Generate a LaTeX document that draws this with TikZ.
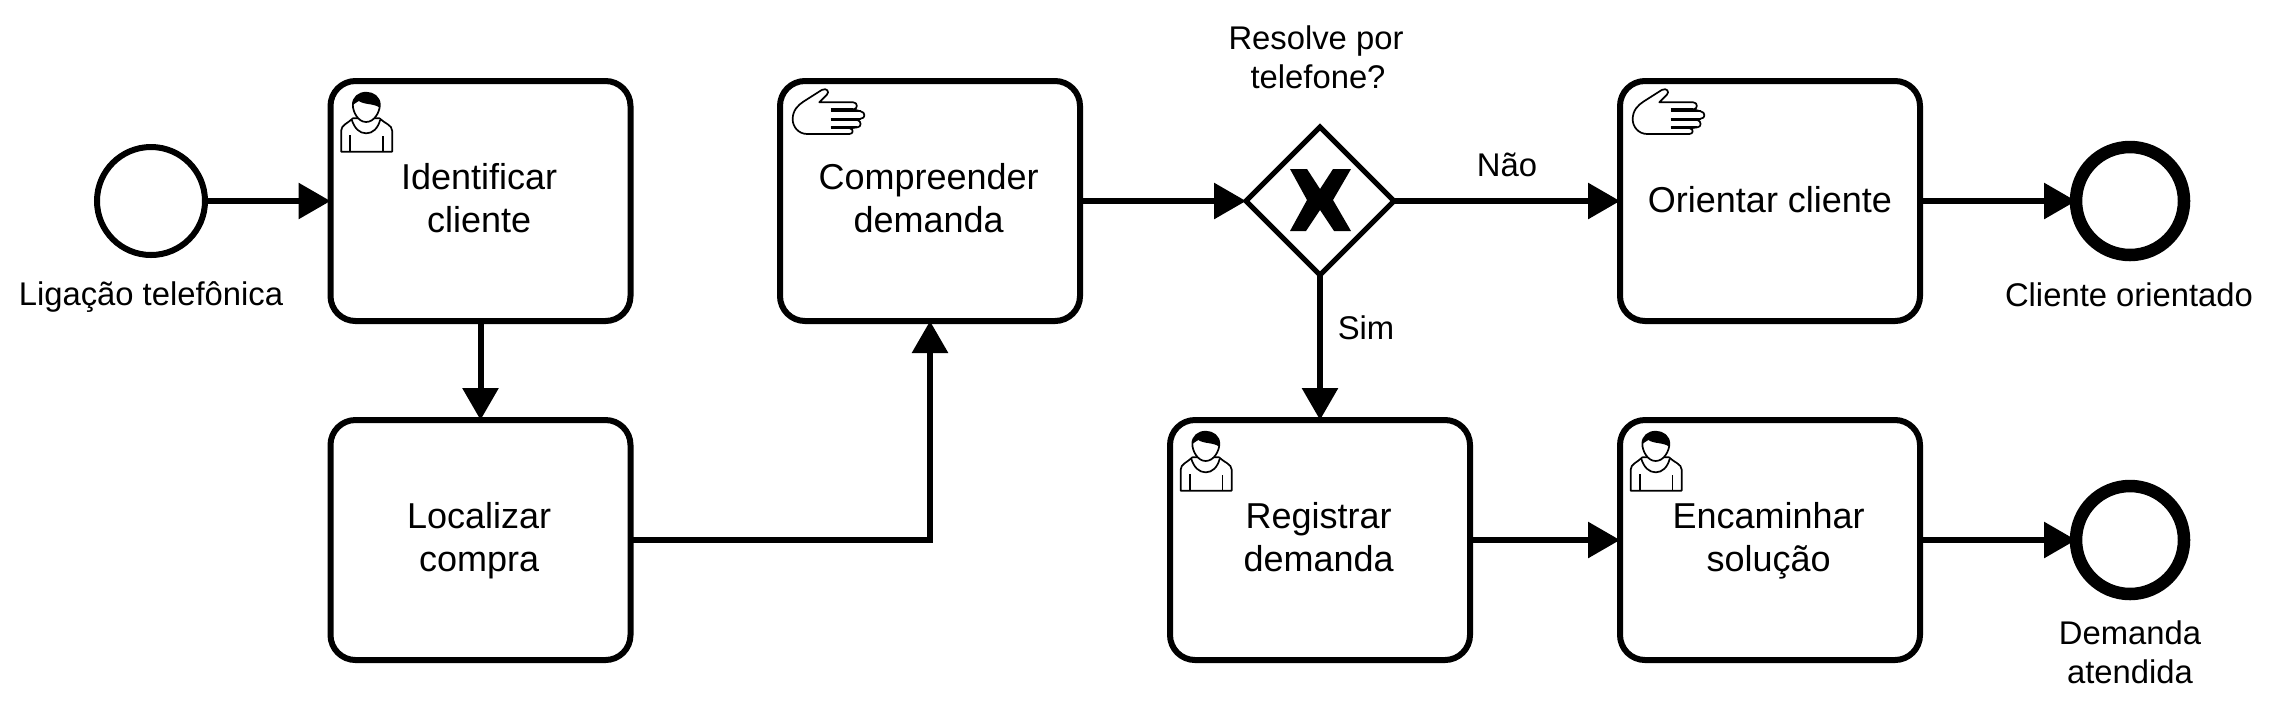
\documentclass[tikz,border=0pt]{standalone}
\usepackage{fontspec}
\setmainfont{Liberation Sans}
\usetikzlibrary{arrows.meta,shapes.geometric}
\newcommand{\tlines}[2]{\strut\raisebox{-0.7pt}{#1}\hspace*{1.4pt}\\\strut\raisebox{-0.7pt}{#2}\hspace*{1.4pt}}
\tikzset{
  x=0.5pt,y=-0.5pt,
  taskbox/.style={draw=black,fill=white,line width=3pt,rounded corners=12.5pt,minimum width=150pt,minimum height=120pt,inner sep=0pt,outer sep=0pt,align=center,font=\fontsize{18}{21.75}\selectfont},
  startev/.style={circle,draw=black,fill=white,line width=3pt,minimum size=54pt,inner sep=0pt,outer sep=0pt},
  endev/.style={circle,draw=black,fill=white,line width=6.25pt,minimum size=54pt,inner sep=0pt,outer sep=0pt},
  gate/.style={diamond,aspect=1,draw=black,fill=white,line width=2.5pt,minimum width=74pt,minimum height=74pt,inner sep=0pt,outer sep=0pt},
  lbl/.style={inner sep=0pt,outer sep=0pt,align=center,font=\fontsize{16.4}{19.5}\selectfont},
  flow/.style={draw=black,line width=3pt,-{Triangle[length=16pt,width=17.5pt]}},
  usericon/.pic={
    \begin{scope}[scale=1/3,line width=0.85pt,line join=round]
      \draw[fill=white] (65,245) -- (65,182) .. controls (65,165) and (85,160) .. (100,145) -- (180,145) .. controls (195,160) and (218,165) .. (218,182) -- (218,245) -- cycle;
      \draw[fill=white] (140,156) .. controls (115,156) and (100,125) .. (100,105) .. controls (100,82) and (118,68) .. (140,68) .. controls (162,68) and (181,82) .. (181,105) .. controls (181,125) and (165,156) .. (140,156) -- cycle;
      \fill[black] (100,105) .. controls (100,82) and (118,68) .. (140,68) .. controls (162,68) and (181,82) .. (181,105) -- (180,113) .. controls (165,100) and (135,105) .. (118,93) .. controls (112,98) and (104,100) .. (100,105) -- cycle;
      \draw (97,150) .. controls (105,175) and (120,190) .. (140,190) .. controls (160,190) and (175,175) .. (182,150);
      \draw (92,195) -- (92,245) (190,198) -- (190,245);
    \end{scope}
  },
  handicon/.pic={
    \begin{scope}[scale=1/3,line width=0.85pt,line join=round]
      \draw[fill=white] (148,97) -- (250,97) .. controls (264,97) and (264,118) .. (250,118)
        -- (272,124) .. controls (287,126) and (287,146) .. (272,146)
        -- (262,150) .. controls (275,152) and (275,172) .. (262,172)
        -- (240,175) .. controls (252,178) and (250,192) .. (238,192)
        -- (112,192) .. controls (85,192) and (68,170) .. (68,148) .. controls (68,120) and (85,105) .. (100,95)
        -- (155,60) .. controls (170,52) and (180,65) .. (170,75) -- cycle;
      \draw (182,118) -- (250,118) (182,124) -- (272,124) (182,146) -- (272,146) (182,150) -- (262,150) (182,172) -- (262,172) (182,175) -- (240,175);
    \end{scope}
  }
}
\begin{document}
\begin{tikzpicture}
\path[use as bounding box,fill=white] (0,0) rectangle (2274,714);
\node[startev] (start) at (151,201) {};
\node[taskbox] (ident) at (480.5,201) {\tlines{Identificar}{cliente}};
\node[taskbox] (local) at (480.5,540) {\tlines{Localizar}{compra}};
\node[taskbox] (compr) at (930,201) {\tlines{Compreender}{demanda}};
\node[gate] (gw) at (1320,201) {};
\node[taskbox] (orient) at (1770,201) {\strut\raisebox{-1.5pt}{Orientar cliente}};
\node[taskbox] (regis) at (1320,540) {\tlines{Registrar}{demanda}};
\node[taskbox] (encam) at (1770,540) {\tlines{Encaminhar}{solução}};
\node[endev] (end1) at (2130,201) {};
\node[endev] (end2) at (2130,540) {};

\fill[black] (1290,169) -- (1307,169) -- (1320,189) -- (1333,169) -- (1351,169) -- (1333,200) -- (1351,231) -- (1334,231) -- (1320,210) -- (1306,231) -- (1290,231) -- (1307,200) -- cycle;

\pic at ([shift={(-11,-11)}]ident.north west) {usericon};
\pic at ([shift={(-11,-11)}]regis.north west) {usericon};
\pic at ([shift={(-11,-11)}]encam.north west) {usericon};
\pic at ([shift={(-10,-11)}]compr.north west) {handicon};
\pic at ([shift={(-10,-11)}]orient.north west) {handicon};

\node[lbl,anchor=base] (l1) at (151,305) {Ligação telefônica};
\node[lbl,anchor=base] (l2) at (2129,306) {Cliente orientado};
\node[lbl] (l3) at (2130,652) {Demanda\\atendida};
\node[lbl] (l4) at (1316,57) {Resolve por\\\hspace*{2pt}telefone?};
\node[lbl] (l5) at (1507,165) {Não};
\node[lbl] (l6) at (1366,328) {Sim};

\draw[flow] (start) -- (ident);
\draw[flow] (ident) -- (local);
\draw[flow] (local.east) -| (compr.south);
\draw[flow] (compr) -- (gw);
\draw[flow] (gw) -- (orient);
\draw[flow] (gw) -- (regis);
\draw[flow] (orient) -- (end1);
\draw[flow] (regis) -- (encam);
\draw[flow] (encam) -- (end2);
\end{tikzpicture}
\end{document}
